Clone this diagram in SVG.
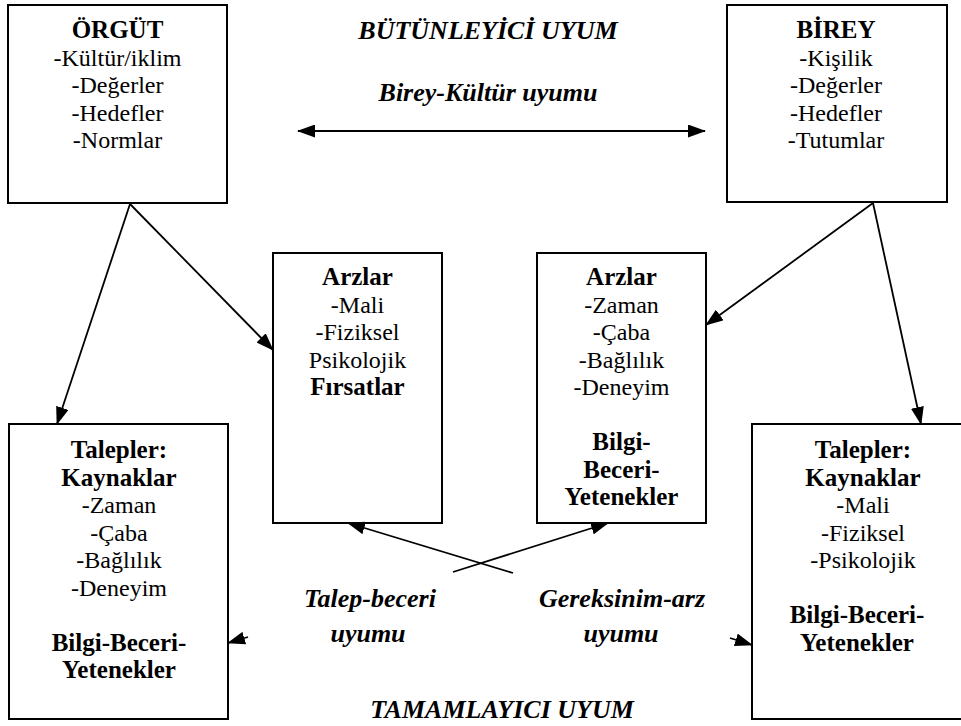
<svg xmlns="http://www.w3.org/2000/svg" width="961" height="726" viewBox="0 0 961 726">
<style>
  .box { fill: #fff; stroke: #000; stroke-width: 2; }
  .t { font-family: "Liberation Serif", "Times New Roman", serif; font-size: 24px; fill: #000; text-anchor: middle; }
  .b { font-weight: bold; font-size: 25px; }
  .lbl { font-family: "Liberation Serif", "Times New Roman", serif; font-size: 26px; font-weight: bold; font-style: italic; fill: #000; text-anchor: middle; }
  .c { stroke: #000; stroke-width: 1.8; fill: none; marker-end: url(#ah); }
</style>
<defs>
  <marker id="ah" markerUnits="userSpaceOnUse" markerWidth="18" markerHeight="13" refX="17" refY="6.5" orient="auto-start-reverse">
    <path d="M0,0 L18,6.5 L0,13 z" fill="#000"/>
  </marker>
</defs>
<rect width="961" height="726" fill="#fff"/>

<g id="orgut">
  <rect class="box" x="8" y="5" width="219" height="198"/>
  <text class="t b" x="117.5" y="38">ÖRGÜT</text>
  <text class="t" x="117.5" y="66">-Kültür/iklim</text>
  <text class="t" x="117.5" y="93">-Değerler</text>
  <text class="t" x="117.5" y="121">-Hedefler</text>
  <text class="t" x="117.5" y="148">-Normlar</text>
</g>

<g id="birey">
  <rect class="box" x="727" y="5" width="220" height="197"/>
  <text class="t b" x="836" y="38">BİREY</text>
  <text class="t" x="836" y="66">-Kişilik</text>
  <text class="t" x="836" y="93">-Değerler</text>
  <text class="t" x="836" y="121">-Hedefler</text>
  <text class="t" x="836" y="148">-Tutumlar</text>
</g>

<g id="arzlar-left">
  <rect class="box" x="273" y="253" width="169" height="270"/>
  <text class="t b" x="357.5" y="285">Arzlar</text>
  <text class="t" x="357.5" y="312.5">-Mali</text>
  <text class="t" x="357.5" y="340">-Fiziksel</text>
  <text class="t" x="357.5" y="367.5">Psikolojik</text>
  <text class="t b" x="357.5" y="395">Fırsatlar</text>
</g>

<g id="arzlar-right">
  <rect class="box" x="537" y="253" width="169" height="270"/>
  <text class="t b" x="621.5" y="285">Arzlar</text>
  <text class="t" x="621.5" y="312.5">-Zaman</text>
  <text class="t" x="621.5" y="340">-Çaba</text>
  <text class="t" x="621.5" y="367.5">-Bağlılık</text>
  <text class="t" x="621.5" y="395">-Deneyim</text>
  <text class="t b" x="621.5" y="450">Bilgi-</text>
  <text class="t b" x="621.5" y="477.5">Beceri-</text>
  <text class="t b" x="621.5" y="505">Yetenekler</text>
</g>

<g id="talepler-left">
  <rect class="box" x="9" y="424" width="219" height="295"/>
  <text class="t b" x="119" y="458">Talepler:</text>
  <text class="t b" x="119" y="485.5">Kaynaklar</text>
  <text class="t" x="119" y="513">-Zaman</text>
  <text class="t" x="119" y="540.5">-Çaba</text>
  <text class="t" x="119" y="568">-Bağlılık</text>
  <text class="t" x="119" y="595.5">-Deneyim</text>
  <text class="t b" x="119" y="650.5">Bilgi-Beceri-</text>
  <text class="t b" x="119" y="678">Yetenekler</text>
</g>

<g id="talepler-right">
  <rect class="box" x="752" y="424" width="226" height="295"/>
  <text class="t b" x="863" y="458">Talepler:</text>
  <text class="t b" x="863" y="485.5">Kaynaklar</text>
  <text class="t" x="863" y="513">-Mali</text>
  <text class="t" x="863" y="540.5">-Fiziksel</text>
  <text class="t" x="863" y="568">-Psikolojik</text>
  <text class="t b" x="857" y="623">Bilgi-Beceri-</text>
  <text class="t b" x="857" y="650.5">Yetenekler</text>
</g>

<g id="labels">
  <text class="lbl" x="488" y="39">BÜTÜNLEYİCİ UYUM</text>
  <text class="lbl" x="488" y="101">Birey-Kültür uyumu</text>
  <text class="lbl" x="370" y="607">Talep-beceri</text>
  <text class="lbl" x="368" y="642">uyumu</text>
  <text class="lbl" x="622" y="607">Gereksinim-arz</text>
  <text class="lbl" x="621" y="642">uyumu</text>
  <text class="lbl" x="502" y="718">TAMAMLAYICI UYUM</text>
</g>

<g id="connectors">
  <line class="c" x1="298" y1="131" x2="705" y2="131" style="marker-start:url(#ah)"/>
  <line class="c" x1="130" y1="204" x2="57" y2="424"/>
  <line class="c" x1="130" y1="204" x2="273" y2="350"/>
  <line class="c" x1="873" y1="203" x2="706" y2="325"/>
  <line class="c" x1="873" y1="203" x2="921" y2="424"/>
  <line class="c" x1="513" y1="573" x2="348" y2="523"/>
  <line class="c" x1="453" y1="572" x2="608" y2="523"/>
  <line class="c" x1="248" y1="637" x2="228" y2="643"/>
  <line class="c" x1="730" y1="638" x2="752" y2="645"/>
</g>
</svg>
